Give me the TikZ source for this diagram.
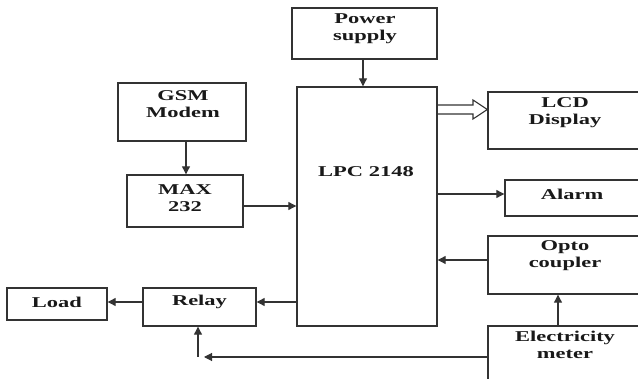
\documentclass[tikz,border=0pt]{standalone}
\usepackage{fontspec}
\setmainfont{Liberation Serif}[FakeStretch=1.5]
\usetikzlibrary{arrows.meta,calc}
\begin{document}
\begin{tikzpicture}[x=1pt,y=-1pt,
  box/.style={draw=black!80,line width=1.4pt,inner sep=0pt,rectangle},
  txt/.style={font=\bfseries\fontsize{15}{17}\selectfont,align=center,inner sep=0pt,text=black!90},
  arr/.style={draw=black!80,line width=1.1pt,-{Triangle[length=8pt,width=8pt]}},
  ln/.style={draw=black!80,line width=1.1pt}]
\useasboundingbox (0,0) rectangle (638,379);
\clip (0,0) rectangle (638,379);
% boxes
\node[box,minimum width=145pt,minimum height=51pt] (power) at (364.5,33.5) {};
\node[box,minimum width=140pt,minimum height=239pt] (lpc) at (367,206.5) {};
\node[box,minimum width=128pt,minimum height=58pt] (gsm) at (182,112) {};
\node[box,minimum width=116pt,minimum height=52pt] (max) at (185,201) {};
\node[box,minimum width=154pt,minimum height=57pt] (lcd) at (565,120.5) {};
\node[box,minimum width=135pt,minimum height=36pt] (alarm) at (572.5,198) {};
\node[box,minimum width=154pt,minimum height=58pt] (opto) at (565,265) {};
\node[box,minimum width=154pt,minimum height=74pt] (meter) at (565,363) {};
\node[box,minimum width=113pt,minimum height=38pt] (relay) at (199.5,307) {};
\node[box,minimum width=100pt,minimum height=32pt] (load) at (57,304) {};
% texts
\node[txt] (tpower) at (365,29) {Power\\supply};
\node[txt] (tlpc) at (366,172) {LPC 2148};
\node[txt] (tgsm) at (183,104) {GSM\\Modem};
\node[txt] (tmax) at (185,198) {MAX\\232};
\node[txt] (tlcd) at (565,113) {LCD\\Display};
\node[txt] (talarm) at (572,194) {Alarm};
\node[txt] (topto) at (565,256) {Opto\\coupler};
\node[txt] (tmeter) at (565,345) {Electricity\\meter};
\node[txt] (trelay) at (199.5,302) {Relay};
\node[txt] (tload) at (57,302) {Load};
% connectors
\draw[arr] (power.south -| 363,0) -- (lpc.north -| 363,0);
\draw[arr] (gsm.south -| 186,0) -- (max.north -| 186,0);
\draw[arr] (max.east |- 0,206) -- (lpc.west |- 0,206);
\draw[arr] (lpc.east |- 0,194) -- (alarm.west |- 0,194);
\draw[arr] (opto.west |- 0,260) -- (lpc.east |- 0,260);
\draw[arr] (meter.north -| 558,0) -- (opto.south -| 558,0);
\draw[arr] (lpc.west |- 0,302) -- (relay.east |- 0,302);
\draw[arr] (relay.west |- 0,302) -- (load.east |- 0,302);
\coordinate (corner) at (198,357);
\draw[arr] (meter.west |- corner) -- ([xshift=6pt]corner);
\draw[arr] (corner) -- (relay.south -| corner);
% hollow double arrow to LCD
\coordinate (h1) at (473,100);
\coordinate (h2) at (473,119);
\draw[ln,line join=miter] (lpc.east |- 0,105) -- (h1 |- 0,105) -- (h1) -- (lcd.west |- 0,109.5) -- (h2) -- (h2 |- 0,114) -- (lpc.east |- 0,114);
\end{tikzpicture}
\end{document}
